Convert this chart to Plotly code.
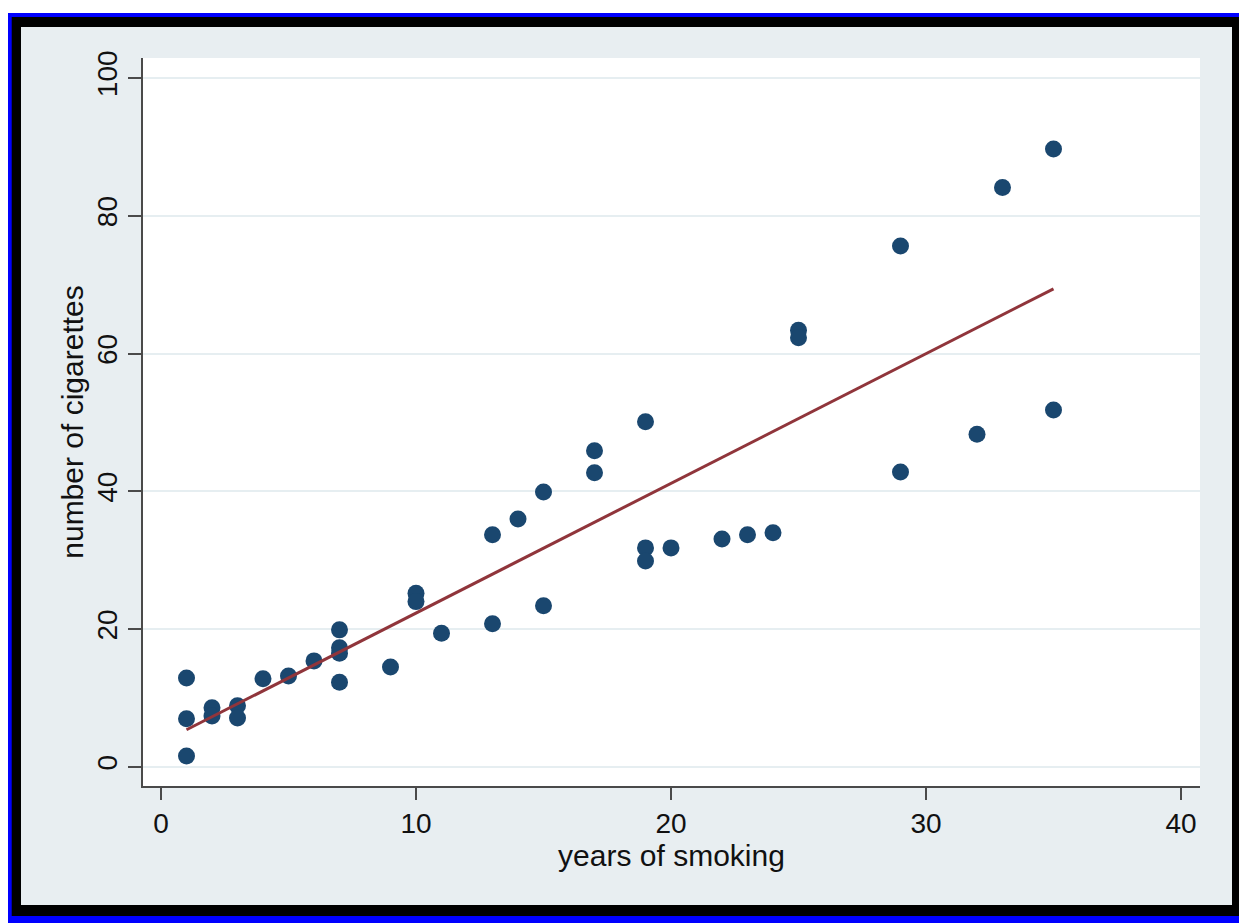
import plotly.graph_objects as go

# ---- data ----
years = [1, 1, 1, 2, 2, 3, 3, 4, 5, 6, 7, 7, 7, 7, 9, 10, 10, 11, 13, 13,
         14, 15, 15, 17, 17, 19, 19, 19, 20, 22, 23, 24, 25, 25, 29, 29, 32, 33, 35, 35]
cigarettes = [12.9, 7.0, 1.6, 8.6, 7.4, 8.9, 7.1, 12.8, 13.2, 15.4, 19.9, 17.3, 16.5, 12.3,
              14.5, 25.2, 24.0, 19.4, 33.7, 20.8, 36.0, 39.9, 23.4, 45.9, 42.7, 50.1, 31.8,
              29.9, 31.8, 33.1, 33.7, 34.0, 63.4, 62.3, 75.6, 42.8, 48.3, 84.1, 89.7, 51.8]
fit_x = [1, 35]
fit_y = [5.4, 69.4]
x_ticks = [0, 10, 20, 30, 40]
y_ticks = [0, 20, 40, 60, 80, 100]

# ---- layout geometry (pixels) ----
W, H = 1239, 923
L, R, T, B = 143, 1200, 58, 786
PW, PH = R - L, B - T


def px(x):
    return (x - L) / PW


def py(y):
    return (B - y) / PH


FONT = "Liberation Sans, Arial, Helvetica, sans-serif"
BG = "#E8EEF1"
AXIS = "#4a4a4a"
GRID = "#E6EEF1"

fig = go.Figure()
fig.add_trace(go.Scatter(
    x=years, y=cigarettes, mode="markers",
    marker=dict(size=17, color="#1A476F", line=dict(width=0)),
    name="number of cigarettes", showlegend=False, cliponaxis=False,
))
fig.add_trace(go.Scatter(
    x=fit_x, y=fit_y, mode="lines",
    line=dict(color="#90353B", width=3),
    name="Fitted values", showlegend=False,
))

shapes = [
    dict(type="rect", xref="paper", yref="paper", layer="below",
         x0=px(8), x1=px(1260), y0=py(940), y1=py(13),
         fillcolor="#0000FF", line=dict(width=0)),
    dict(type="rect", xref="paper", yref="paper", layer="below",
         x0=px(11.7), x1=px(1260), y0=py(916), y1=py(17),
         fillcolor="#000000", line=dict(width=0)),
    dict(type="rect", xref="paper", yref="paper", layer="below",
         x0=px(21), x1=px(1232), y0=py(905), y1=py(27),
         fillcolor=BG, line=dict(width=0)),
    dict(type="rect", xref="paper", yref="paper", layer="below",
         x0=0, x1=1, y0=0, y1=1,
         fillcolor="#FFFFFF", line=dict(width=0)),
]

fig.update_layout(
    width=W, height=H,
    margin=dict(l=L, r=W - R, t=T, b=H - B, pad=0),
    paper_bgcolor="#FFFFFF",
    plot_bgcolor="#FFFFFF",
    shapes=shapes,
    font=dict(family=FONT, color="#111111", size=28),
    showlegend=False,
)

fig.update_xaxes(
    range=[-0.706, 40.745], tickvals=x_ticks, ticktext=[str(v) for v in x_ticks],
    showgrid=False, zeroline=False,
    showline=True, linecolor=AXIS, linewidth=1.5,
    ticks="outside", ticklen=12, tickwidth=1.5, tickcolor=AXIS,
    tickfont=dict(size=28, family=FONT, color="#111111"),
    title=dict(text="years of smoking", font=dict(size=30, family=FONT, color="#111111"),
               standoff=3),
    automargin=False,
)
fig.update_yaxes(
    range=[-2.76, 102.9], tickvals=y_ticks, ticktext=[str(v) for v in y_ticks],
    showgrid=True, gridcolor=GRID, gridwidth=2, zeroline=False,
    showline=True, linecolor=AXIS, linewidth=1.5,
    ticks="outside", ticklen=13, tickwidth=1.5, tickcolor=AXIS,
    tickangle=-90,
    tickfont=dict(size=28, family=FONT, color="#111111"),
    title=dict(text="number of cigarettes", font=dict(size=30, family=FONT, color="#111111"),
               standoff=0),
    automargin=False,
)

fig.write_html("out.html", config={"displayModeBar": False},
               post_script="document.body.style.margin='0';document.body.style.overflow='hidden';")
